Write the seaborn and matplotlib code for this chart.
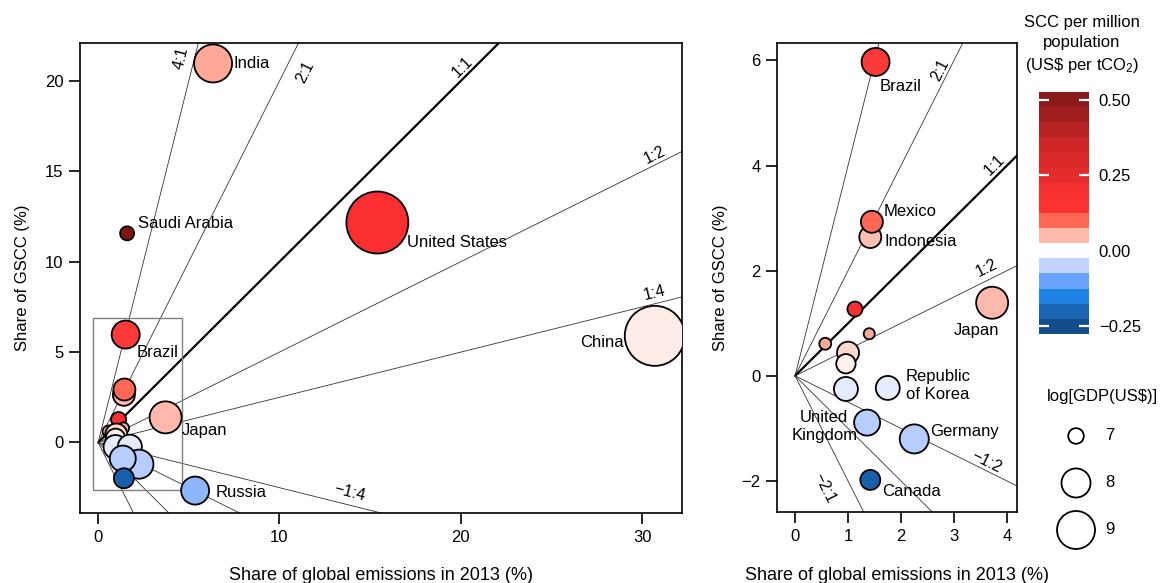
import numpy as np
import pandas as pd
import matplotlib
matplotlib.use("Agg")
import matplotlib.pyplot as plt
import matplotlib.colors as mcolors
import matplotlib.colorbar as mcolorbar
from matplotlib.patches import Rectangle
import seaborn as sns

# country data (share of emissions 2013 %, share of GSCC %, SCC per million pop, log GDP)
countries = ["China", "United States", "India", "Saudi Arabia", "Russia", "Japan",
             "Brazil", "Indonesia", "Mexico", "Iran", "Turkey", "Australia",
             "South Africa", "France", "Italy", "Republic of Korea", "Germany",
             "United Kingdom", "Canada"]
emission_share = [30.7, 15.4, 6.34, 1.6, 5.35, 3.72,
                  1.52, 1.42, 1.45, 1.13, 0.57, 1.40,
                  1.0, 0.96, 0.96, 1.75, 2.25,
                  1.36, 1.42]
gscc_share = [5.9, 12.17, 20.97, 11.57, -2.66, 1.39,
              5.97, 2.64, 2.93, 1.27, 0.61, 0.80,
              0.44, 0.23, -0.25, -0.23, -1.20,
              -0.89, -1.98]
scc_per_million = [0.015, 0.15, 0.06, 0.54, -0.08, 0.05,
                   0.14, 0.045, 0.10, 0.20, 0.06, 0.06,
                   0.03, 0.012, -0.02, -0.02, -0.055,
                   -0.055, -0.21]
log_gdp = [12.6, 13.0, 9.0, 6.92, 7.9, 8.3,
           7.9, 7.4, 7.4, 6.97, 6.83, 6.8,
           7.4, 7.22, 7.55, 7.55, 8.0,
           7.72, 7.26]

ratio_slopes_left = [4, 2, 1, 0.5, 0.25, -0.25, -0.5, -1, -2]
ratio_slopes_right = [4, 2, 1, 0.5, -0.5, -1, -2]

# ratio labels: (text, slope, x, y)
ratio_labels_left = [("4:1", 4, 4.58, 21.25), ("2:1", 2, 11.4, 20.5), ("1:1", 1, 20.1, 20.75),
                     ("1:2", 0.5, 30.7, 15.9), ("1:4", 0.25, 30.7, 8.3), ("\u22121:4", -0.25, 13.9, -2.77)]
ratio_labels_right = [("2:1", 2, 2.74, 5.82), ("1:1", 1, 3.77, 4.01), ("1:2", 0.5, 3.62, 2.05),
                      ("\u22121:2", -0.5, 3.62, -1.63), ("\u22122:1", -2, 0.55, -2.13)]

# country labels: (text, x, y, ha)
labels_left = [("India", 7.45, 20.97, "left"), ("Saudi Arabia", 2.2, 12.12, "left"),
               ("United States", 17.04, 11.07, "left"), ("China", 29.0, 5.53, "right"),
               ("Brazil", 2.15, 4.98, "left"), ("Japan", 4.63, 0.66, "left"),
               ("Russia", 6.5, -2.77, "left")]
labels_right = [("Brazil", 1.6, 5.51, "left"), ("Mexico", 1.68, 3.12, "left"),
                ("Indonesia", 1.68, 2.55, "left"), ("Japan", 3.43, 0.86, "center"),
                ("Republic\nof Korea", 2.09, -0.19, "left"), ("United\nKingdom", 0.55, -0.97, "center"),
                ("Germany", 2.55, -1.06, "left"), ("Canada", 1.64, -2.2, "left")]

legend_gdp = [7, 8, 9]

# colour scale anchors for SCC per million population
scc_anchor_vals = [-0.3, -0.25, -0.2, -0.15, -0.1, -0.05, 0, 0.05, 0.1, 0.15, 0.2,
                   0.25, 0.3, 0.35, 0.4, 0.45, 0.5, 0.6]
scc_anchor_cols = ['#0c3f75', '#124d8a', '#1a66b5', '#1e84e6', '#6ea5ff', '#c2d2ff',
                   '#ffffff', '#ffb8aa', '#ff6655', '#fc3030', '#f53030', '#e52b2b',
                   '#d92828', '#cc2626', '#b82222', '#a11e1e', '#8b1a1a', '#6e0f00']

sns.set_theme(style="ticks")
plt.rcParams['font.family'] = ['Liberation Sans', 'DejaVu Sans']
plt.rcParams['mathtext.fontset'] = 'custom'
plt.rcParams['mathtext.rm'] = 'Liberation Sans'
plt.rcParams['mathtext.default'] = 'regular'
for key in ['text.color', 'axes.labelcolor', 'xtick.color', 'ytick.color', 'axes.edgecolor']:
    plt.rcParams[key] = 'black'

vmin, vmax = scc_anchor_vals[0], scc_anchor_vals[-1]
scc_cmap = mcolors.LinearSegmentedColormap.from_list(
    "scc", [((v - vmin) / (vmax - vmin), c) for v, c in zip(scc_anchor_vals, scc_anchor_cols)])
scc_norm = mcolors.Normalize(vmin, vmax)


def gdp_to_area(v):
    # marker area (pt^2) grows linearly with log GDP
    r_px2 = 61 + 150 * (np.asarray(v) - 7)
    return 4 * r_px2 * 0.72 ** 2


df = pd.DataFrame({"country": countries, "emissions": emission_share, "gscc": gscc_share,
                   "scc": scc_per_million, "gdp": log_gdp})
df["area"] = gdp_to_area(df["gdp"])

fig = plt.figure(figsize=(11.61, 5.83), dpi=100)
ax1 = fig.add_axes([0.0689, 0.1201, 0.5185, 0.8061])
ax2 = fig.add_axes([0.6693, 0.1218, 0.2067, 0.8044])

FS = 12


def draw_panel(ax, slopes, rlabels, clabels, xlim, ylim):
    # ratio rays start at the origin and run to the right
    ray_x = np.array([0, xlim[1] * 1.5])
    for s in slopes:
        if s == 1:
            ax.plot(ray_x, s * ray_x, color="black", lw=1.6, zorder=1)
        else:
            ax.plot(ray_x, s * ray_x, color="#333333", lw=0.6, zorder=1)
    ax.set_xlim(*xlim)
    ax.set_ylim(*ylim)
    sns.scatterplot(data=df, x="emissions", y="gscc", hue="scc", palette=scc_cmap,
                    hue_norm=scc_norm, s=df["area"], edgecolor="black", linewidth=1.3,
                    legend=False, ax=ax, zorder=3)
    for txt, s, x, y in rlabels:
        ax.text(x, y, txt, rotation=np.degrees(np.arctan(s)), transform_rotates_text=True,
                rotation_mode="anchor", ha="center", va="center", fontsize=FS - 0.5, zorder=4)
    for txt, x, y, ha in clabels:
        ax.text(x, y, txt, ha=ha, va="center", fontsize=FS, linespacing=1.25, zorder=4)
    for sp in ax.spines.values():
        sp.set_visible(True)
        sp.set_linewidth(1.2)
        sp.set_color("black")
    ax.tick_params(length=8, width=1.2, labelsize=FS, color="black", pad=4)
    ax.set_xlabel("Share of global emissions in 2013 (%)", fontsize=FS + 1)
    ax.set_ylabel("Share of GSCC (%)", fontsize=FS)
    ax.grid(False)


draw_panel(ax1, ratio_slopes_left, ratio_labels_left, labels_left, (-1.0, 32.2), (-3.9, 22.1))
ax1.set_xticks([0, 10, 20, 30])
ax1.set_yticks([0, 5, 10, 15, 20])
ax1.add_patch(Rectangle((-0.3, -2.65), 4.9, 9.55, fill=False, ec="#808080", lw=1.0, zorder=2))
ax1.xaxis.set_label_coords(0.5, -0.115)
ax1.yaxis.set_label_coords(-0.083, 0.5)

draw_panel(ax2, ratio_slopes_right, ratio_labels_right, labels_right, (-0.34, 4.19), (-2.59, 6.33))
ax2.set_xticks([0, 1, 2, 3, 4])
ax2.set_yticks([-2, 0, 2, 4, 6])
ax2.xaxis.set_label_coords(0.5, -0.117)
ax2.yaxis.set_label_coords(-0.204, 0.5)

# binned colour bar
bounds = np.arange(-0.275, 0.5251, 0.05)
centers = (bounds[:-1] + bounds[1:]) / 2
bin_cmap = mcolors.ListedColormap([scc_cmap(scc_norm(c)) for c in centers])
bin_norm = mcolors.BoundaryNorm(bounds, bin_cmap.N)
cbar_ticks = [-0.25, 0, 0.25, 0.5]
cax = fig.add_axes([0.8949, 0.4271, 0.0431, 0.4151])
cb = mcolorbar.ColorbarBase(cax, cmap=bin_cmap, norm=bin_norm, ticks=cbar_ticks)
cb.minorticks_off()
cb.outline.set_visible(False)
cax.set_yticklabels(["\u22120.25", "0.00", "0.25", "0.50"])
cax.tick_params(which="major", length=0, labelsize=FS, pad=7)
# short white tick marks drawn inside both edges of the bar
for t in cbar_ticks:
    cax.plot([0.0, 0.2], [t, t], transform=cax.get_yaxis_transform(), color="white",
             lw=1.6, zorder=5, solid_capstyle="butt")
    cax.plot([0.8, 1.0], [t, t], transform=cax.get_yaxis_transform(), color="white",
             lw=1.6, zorder=5, solid_capstyle="butt")
fig.text(0.932, 0.975, "SCC per million\npopulation\n(US\\$ per tCO$_2$)", ha="center", va="top",
         fontsize=FS, linespacing=1.45)

# size legend
lax = fig.add_axes([0.8958, 0.0506, 0.1042, 0.2419])
lax.set_xlim(0, 121)
lax.set_ylim(9.5, 6.5)
leg_df = pd.DataFrame({"x": [36] * len(legend_gdp), "gdp": legend_gdp})
sns.scatterplot(data=leg_df, x="x", y="gdp", s=gdp_to_area(leg_df["gdp"]), color="white",
                edgecolor="black", linewidth=1.3, legend=False, ax=lax, clip_on=False)
for v in legend_gdp:
    lax.text(65, v, str(v), ha="left", va="center", fontsize=FS)
lax.axis("off")
fig.text(1102 / 1161, 1 - 397 / 583, "log[GDP(US\\$)]", ha="center", va="center", fontsize=FS)

fig.savefig("out.png", dpi=100)
